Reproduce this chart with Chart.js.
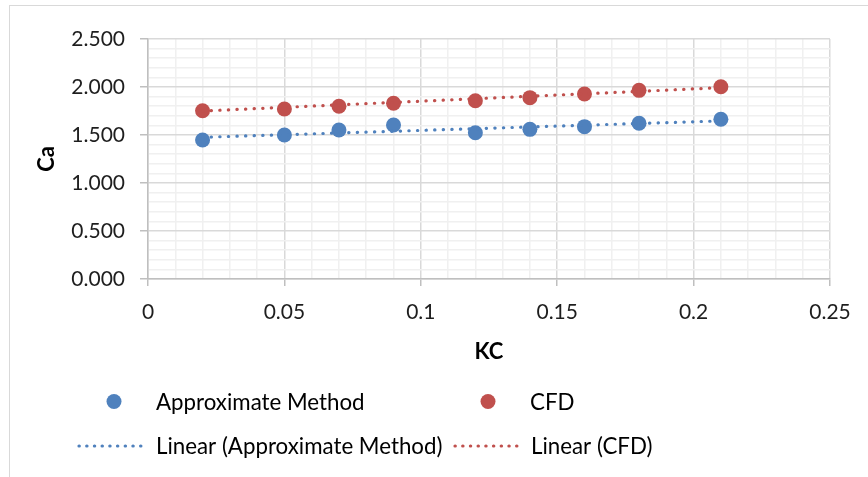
<!DOCTYPE html>
<html>
<head>
<meta charset="utf-8">
<script src="https://cdn.jsdelivr.net/npm/chart.js@4.4.1/dist/chart.umd.min.js"></script>
<style>
  html, body { margin: 0; padding: 0; background: #fff; }
  #wrap { position: relative; width: 868px; height: 477px; }
  #frame { position: absolute; left: 9px; top: 5px; right: 0; bottom: 0; border-left: 1px solid #d9d9d9; border-top: 1px solid #d9d9d9; }
  canvas { position: absolute; left: 0; top: 0; }
</style>
</head>
<body>
<div id="wrap">
  <div id="frame"></div>
  <canvas id="c" width="868" height="477"></canvas>
</div>
<script>
const kc = [0.02, 0.05, 0.07, 0.09, 0.12, 0.14, 0.16, 0.18, 0.21];
const approxMethod = [1.448, 1.500, 1.552, 1.604, 1.524, 1.559, 1.587, 1.622, 1.664];
const cfd = [1.753, 1.771, 1.800, 1.830, 1.857, 1.889, 1.927, 1.965, 2.003];
const trendKc = [0.02, 0.21];
const approxTrend = [1.476, 1.647];
const cfdTrend = [1.750, 1.993];
const xTickLabels = ['0', '0.05', '0.1', '0.15', '0.2', '0.25'];
const yTickLabels = ['0.000', '0.500', '1.000', '1.500', '2.000', '2.500'];

const BLUE = '#4f81bd';
const RED = '#c0504d';
const FONT = 'Lato, "Open Sans", sans-serif';
const DOTS = [0.3, 8.3];

const toPts = (xs, ys) => xs.map((x, i) => ({ x: x, y: ys[i] }));

const isMajorX = v => Math.round(v * 100) % 5 === 0;
const isMajorY = v => Math.round(v * 10) % 5 === 0;

const legendPlugin = {
  id: 'excelLegend',
  afterDraw(chart) {
    const ctx = chart.ctx;
    const ds = chart.data.datasets;
    ctx.save();
    ctx.font = '22.3px ' + FONT;
    ctx.textBaseline = 'middle';
    ctx.textAlign = 'left';
    // row 1: markers
    [
      { cx: 114, tx: 156, color: BLUE, text: ds[0].label },
      { cx: 488, tx: 530, color: RED, text: ds[1].label }
    ].forEach(it => {
      ctx.beginPath();
      ctx.fillStyle = it.color;
      ctx.arc(it.cx, 401.5, 7.5, 0, Math.PI * 2);
      ctx.fill();
      ctx.fillStyle = '#000';
      ctx.fillText(it.text, it.tx, 402.5);
    });
    // row 2: dotted trend lines
    [
      { x0: 79, x1: 148, tx: 156, color: BLUE, text: ds[2].label },
      { x0: 455, x1: 524, tx: 531, color: RED, text: ds[3].label }
    ].forEach(it => {
      ctx.beginPath();
      ctx.strokeStyle = it.color;
      ctx.lineWidth = 3.2;
      ctx.lineCap = 'round';
      ctx.setLineDash([0.3, 7.4]);
      ctx.moveTo(it.x0, 446);
      ctx.lineTo(it.x1, 446);
      ctx.stroke();
      ctx.setLineDash([]);
      ctx.fillStyle = '#000';
      ctx.fillText(it.text, it.tx, 447);
    });
    ctx.restore();
  }
};

new Chart(document.getElementById('c'), {
  type: 'scatter',
  data: {
    datasets: [
      { label: 'Approximate Method', data: toPts(kc, approxMethod), backgroundColor: BLUE, borderColor: BLUE, borderWidth: 0, pointRadius: 7.5, pointHoverRadius: 7.5, order: 2 },
      { label: 'CFD', data: toPts(kc, cfd), backgroundColor: RED, borderColor: RED, borderWidth: 0, pointRadius: 7.5, pointHoverRadius: 7.5, order: 2 },
      { label: 'Linear (Approximate Method)', data: toPts(trendKc, approxTrend), showLine: true, pointRadius: 0, borderColor: BLUE, borderWidth: 3.2, borderDash: DOTS, borderCapStyle: 'round', order: 1 },
      { label: 'Linear (CFD)', data: toPts(trendKc, cfdTrend), showLine: true, pointRadius: 0, borderColor: RED, borderWidth: 3.2, borderDash: DOTS, borderCapStyle: 'round', order: 1 }
    ]
  },
  options: {
    responsive: false,
    animation: false,
    events: [],
    layout: { padding: { left: 0, right: 38, top: 39, bottom: 98 } },
    plugins: { legend: { display: false }, tooltip: { enabled: false } },
    scales: {
      x: {
        type: 'linear', min: 0, max: 0.25,
        afterFit(s) { s.height = 100; },
        ticks: {
          stepSize: 0.01, autoSkip: false, maxRotation: 0, padding: 14,
          color: '#1e1e1e', font: { family: FONT, size: 21 },
          callback(v) { return isMajorX(v) ? xTickLabels[Math.round(v * 100) / 5] : ''; }
        },
        grid: {
          color: c => isMajorX(c.tick.value) ? '#d9d9d9' : '#f0f0f0',
          tickColor: c => isMajorX(c.tick.value) ? '#bfbfbf' : 'rgba(0,0,0,0)',
          tickLength: 7, lineWidth: 1.5
        },
        border: { color: '#bfbfbf', width: 1.5 },
        title: { display: true, text: 'KC', color: '#000', font: { family: FONT, size: 22, weight: 'bold' }, padding: { top: 0, bottom: 14 } }
      },
      y: {
        type: 'linear', min: 0, max: 2.5,
        afterFit(s) { s.width = 148; },
        ticks: {
          stepSize: 0.1, autoSkip: false, padding: 15,
          color: '#1e1e1e', font: { family: FONT, size: 21 },
          callback(v) { return isMajorY(v) ? yTickLabels[Math.round(v * 10) / 5] : ''; }
        },
        grid: {
          color: c => isMajorY(c.tick.value) ? '#d9d9d9' : '#f0f0f0',
          tickColor: c => isMajorY(c.tick.value) ? '#bfbfbf' : 'rgba(0,0,0,0)',
          tickLength: 8, lineWidth: 1.5
        },
        border: { color: '#bfbfbf', width: 1.5 },
        title: { display: true, text: 'Ca', color: '#000', font: { family: FONT, size: 22, weight: 'bold' }, padding: { top: 34, bottom: 0 } }
      }
    }
  },
  plugins: [legendPlugin]
});
</script>
</body>
</html>
